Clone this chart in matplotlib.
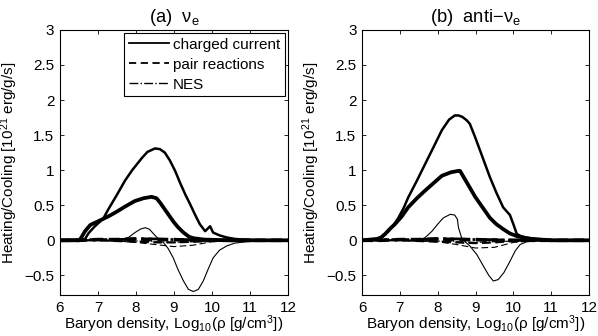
import matplotlib
matplotlib.use('Agg')
import matplotlib.pyplot as plt

plt.rcParams['font.family'] = ['Liberation Sans', 'DejaVu Sans']
plt.rcParams['mathtext.fontset'] = 'custom'
plt.rcParams['mathtext.rm'] = 'Liberation Sans'
plt.rcParams['mathtext.it'] = 'Liberation Sans'
plt.rcParams['font.size'] = 11

# ---- panel (a) nu_e : charged current ----
a_heat_x = [6.0, 6.6, 6.66, 6.75, 6.9, 7.0, 7.14, 7.27, 7.5, 7.71, 7.9, 8.15, 8.3, 8.5, 8.63, 8.76,
            8.89, 9.03, 9.16, 9.3, 9.42, 9.55, 9.68, 9.82, 9.95, 10.03, 10.2, 10.39, 10.6, 10.83, 11.2, 12.0]
a_heat_y = [0.0, 0.0, 0.02, 0.1, 0.19, 0.24, 0.31, 0.44, 0.65, 0.85, 1.0, 1.17, 1.26, 1.31, 1.3, 1.25,
            1.14, 0.99, 0.82, 0.65, 0.52, 0.37, 0.23, 0.13, 0.2, 0.11, 0.07, 0.04, 0.02, 0.01, 0.0, 0.0]
a_cool_x = [6.0, 6.5, 6.55, 6.66, 6.8, 7.0, 7.27, 7.5, 7.71, 7.97, 8.2, 8.41, 8.54, 8.63, 8.76,
            8.98, 9.1, 9.25, 9.4, 9.51, 9.8, 10.5, 12.0]
a_cool_y = [0.0, 0.0, 0.03, 0.13, 0.22, 0.27, 0.34, 0.41, 0.48, 0.56, 0.6, 0.62, 0.6, 0.54, 0.44,
            0.27, 0.19, 0.11, 0.05, 0.03, 0.01, 0.0, 0.0]
a_net_x = [6.0, 7.6, 7.8, 8.0, 8.12, 8.24, 8.35, 8.5, 8.63, 8.72, 8.85, 8.98, 9.1, 9.25, 9.38, 9.51,
           9.64, 9.77, 9.9, 10.03, 10.2, 10.39, 10.6, 10.9, 11.3, 12.0]
a_net_y = [0.0, 0.0, 0.04, 0.12, 0.16, 0.18, 0.16, 0.07, 0.0, -0.03, -0.12, -0.25, -0.41, -0.58, -0.7, -0.73,
           -0.7, -0.58, -0.41, -0.25, -0.14, -0.08, -0.04, -0.02, -0.01, 0.0]

# ---- panel (b) anti-nu_e : charged current ----
b_heat_x = [6.0, 6.45, 6.52, 6.6, 6.7, 6.85, 6.96, 7.1, 7.22, 7.45, 7.67, 7.9, 8.11, 8.3, 8.45, 8.55,
            8.65, 8.77, 8.85, 8.99, 9.12, 9.25, 9.38, 9.55, 9.73, 9.91, 10.0, 10.09, 10.2, 10.35, 10.55,
            10.8, 11.2, 12.0]
b_heat_y = [0.0, 0.0, 0.04, 0.08, 0.13, 0.23, 0.32, 0.46, 0.61, 0.85, 1.09, 1.34, 1.57, 1.72, 1.78, 1.78,
            1.76, 1.71, 1.66, 1.47, 1.28, 1.09, 0.9, 0.68, 0.47, 0.36, 0.23, 0.09, 0.06, 0.04, 0.02,
            0.01, 0.0, 0.0]
b_cool_x = [6.0, 6.4, 6.5, 6.61, 6.75, 6.87, 7.05, 7.22, 7.45, 7.67, 7.9, 8.11, 8.35, 8.55, 8.59,
            8.72, 8.85, 8.99, 9.12, 9.25, 9.38, 9.55, 9.73, 9.9, 10.09, 10.3, 10.5, 11.0, 12.0]
b_cool_y = [0.0, 0.02, 0.04, 0.09, 0.17, 0.23, 0.34, 0.47, 0.6, 0.71, 0.82, 0.92, 0.97, 0.99, 0.99,
            0.87, 0.75, 0.62, 0.52, 0.42, 0.32, 0.23, 0.16, 0.1, 0.06, 0.03, 0.02, 0.0, 0.0]
b_net_x = [6.0, 7.5, 7.67, 7.85, 8.0, 8.15, 8.33, 8.45, 8.52, 8.55, 8.63, 8.72, 8.85, 9.03, 9.2, 9.35,
           9.47, 9.6, 9.75, 9.91, 10.05, 10.18, 10.35, 10.6, 11.0, 12.0]
b_net_y = [0.0, 0.0, 0.04, 0.13, 0.23, 0.32, 0.37, 0.36, 0.3, 0.18, 0.04, -0.02, -0.08, -0.2, -0.36, -0.5,
           -0.58, -0.56, -0.46, -0.3, -0.15, -0.06, -0.02, -0.01, 0.0, 0.0]

# ---- small channels (pair reactions, NES) on a common grid ----
small_x = [6.0, 6.5, 7.0, 7.5, 8.0, 8.5, 9.0, 9.5, 10.0, 10.5, 11.0, 12.0]
a_pair_heat = [0.0, 0.0, 0.01, 0.01, 0.02, 0.01, 0.01, 0.0, 0.0, 0.0, 0.0, 0.0]
a_pair_cool = [0.0, 0.0, 0.0, -0.01, -0.02, -0.03, -0.03, -0.02, -0.01, 0.0, 0.0, 0.0]
a_pair_net = [0.0, 0.0, 0.0, -0.01, -0.03, -0.06, -0.09, -0.07, -0.02, -0.01, 0.0, 0.0]
a_nes_heat = [0.0, 0.01, 0.01, 0.01, 0.02, 0.02, 0.01, 0.01, 0.0, 0.0, 0.0, 0.0]
a_nes_net = [0.0, 0.0, 0.0, -0.01, -0.01, -0.02, -0.03, -0.02, -0.01, 0.0, 0.0, 0.0]
b_pair_heat = [0.0, 0.0, 0.01, 0.01, 0.02, 0.01, 0.01, 0.0, 0.0, 0.0, 0.0, 0.0]
b_pair_cool = [0.0, 0.0, 0.0, -0.01, -0.02, -0.03, -0.04, -0.03, -0.01, 0.0, 0.0, 0.0]
b_pair_net = [0.0, 0.0, 0.0, -0.01, -0.02, -0.06, -0.11, -0.1, -0.03, -0.01, 0.0, 0.0]
b_nes_heat = [0.0, 0.01, 0.01, 0.01, 0.02, 0.02, 0.01, 0.01, 0.0, 0.0, 0.0, 0.0]
b_nes_net = [0.0, 0.0, 0.0, -0.01, -0.01, -0.02, -0.03, -0.02, -0.01, 0.0, 0.0, 0.0]

x_ticks = [6, 7, 8, 9, 10, 11, 12]
y_ticks = [-0.5, 0, 0.5, 1, 1.5, 2, 2.5, 3]
y_tick_labels = ['\u22120.5', '0', '0.5', '1', '1.5', '2', '2.5', '3']

fig = plt.figure(figsize=(5.98, 3.36), dpi=100)
ax1 = fig.add_axes([0.1003, 0.122, 0.3813, 0.789])
ax2 = fig.add_axes([0.6054, 0.122, 0.3796, 0.789])

panels = [
    (ax1, '(a)  \u03bd$_\\mathrm{e}$', a_heat_x, a_heat_y, a_cool_x, a_cool_y, a_net_x, a_net_y,
     a_pair_heat, a_pair_cool, a_pair_net, a_nes_heat, a_nes_net),
    (ax2, '(b)  anti\u2212\u03bd$_\\mathrm{e}$', b_heat_x, b_heat_y, b_cool_x, b_cool_y, b_net_x, b_net_y,
     b_pair_heat, b_pair_cool, b_pair_net, b_nes_heat, b_nes_net),
]

for (ax, title, hx, hy, cx, cy, nx, ny, ph, pc, pn, nh, nn) in panels:
    # pair reactions
    ax.plot(small_x, ph, 'k--', lw=2.6, dashes=(3, 1.5))
    ax.plot(small_x, pc, 'k--', lw=1.6, dashes=(4, 2))
    ax.plot(small_x, pn, 'k--', lw=0.8, dashes=(6, 3))
    # NES
    ax.plot(small_x, nh, 'k-.', lw=2.0)
    ax.plot(small_x, nn, 'k-.', lw=0.8)
    # charged current
    ax.plot(cx, cy, 'k-', lw=2.7)
    ax.plot(hx, hy, 'k-', lw=1.8)
    ax.plot(nx, ny, 'k-', lw=0.8)

    ax.set_xlim(6, 12)
    ax.set_ylim(-0.78, 3)
    ax.set_xticks(x_ticks)
    ax.set_yticks(y_ticks)
    ax.set_yticklabels(y_tick_labels)
    ax.tick_params(direction='in', top=True, right=True, length=3, width=0.6, pad=4)
    for s in ax.spines.values():
        s.set_linewidth(0.8)
    ax.set_title(title, pad=6)
    ax.set_xlabel('Baryon density, Log$_{10}$(\u03c1 [g/cm$^3$])', labelpad=-1)
    ax.set_ylabel('Heating/Cooling [10$^{21}$ erg/g/s]', labelpad=3)

# legend on the left panel
h1, = ax1.plot([], [], 'k-', lw=1.3)
h2, = ax1.plot([], [], 'k--', lw=1.3, dashes=(4, 2.5))
h3, = ax1.plot([], [], 'k-.', lw=1.0)
ax1.legend([h1, h2, h3], ['charged current', 'pair reactions', 'NES'],
           loc='upper right', fancybox=False, framealpha=1, edgecolor='black',
           borderaxespad=0.2, handlelength=2.6, handletextpad=0.3, labelspacing=0.4,
           borderpad=0.3).get_frame().set_linewidth(0.8)

fig.savefig('out.png', dpi=100)
